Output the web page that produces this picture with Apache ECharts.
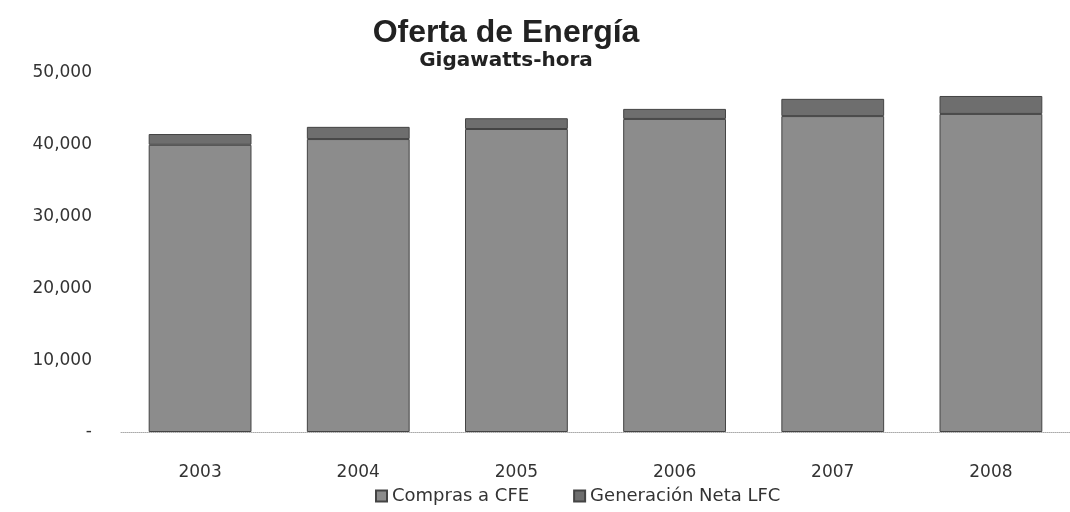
<!DOCTYPE html>
<html>
<head>
<meta charset="utf-8">
<title>Oferta de Energía</title>
<script src="https://cdn.jsdelivr.net/npm/echarts@6/dist/echarts.min.js"></script>
<style>
  html, body { margin: 0; padding: 0; background: #fff; }
  #chart { width: 1070px; height: 512px; }
</style>
</head>
<body>
<div id="chart"></div>
<script>
var years = ['2003', '2004', '2005', '2006', '2007', '2008'];
// Gigawatts-hora
var comprasCFE = [40000, 40800, 42200, 43600, 44000, 44300];
var generacionLFC = [1500, 1700, 1500, 1400, 2400, 2500];
var yTicks = [0, 10000, 20000, 30000, 40000, 50000];

var chart = echarts.init(document.getElementById('chart'));

var option = {
    animation: false,
    title: {
        text: 'Oferta de Energía',
        subtext: 'Gigawatts-hora',
        left: 501,
        textAlign: 'center',
        top: 12,
        itemGap: 2,
        textStyle: { fontFamily: 'Liberation Sans', fontSize: 32, fontWeight: 'bold', color: '#222' },
        subtextStyle: { fontFamily: 'DejaVu Sans', fontSize: 20, fontWeight: 'bold', color: '#222' }
    },
    legend: {
        data: ['Compras a CFE', 'Generación Neta LFC'],
        bottom: 2,
        left: 370,
        itemWidth: 11,
        itemHeight: 11,
        itemGap: 44,
        icon: 'rect',
        textStyle: { fontFamily: 'DejaVu Sans', fontSize: 18, color: '#333' }
    },
    grid: { left: 121, right: -12, top: 73, bottom: 80 },
    xAxis: {
        type: 'category',
        data: years,
        axisLine: { lineStyle: { color: '#aaa', type: 'dotted' } },
        axisTick: { show: false },
        axisLabel: { fontFamily: 'DejaVu Sans', fontSize: 17, color: '#333', margin: 32 }
    },
    yAxis: {
        type: 'value',
        min: yTicks[0],
        max: yTicks[yTicks.length - 1],
        interval: yTicks[1] - yTicks[0],
        splitLine: { show: false },
        axisLine: { show: false },
        axisTick: { show: false },
        axisLabel: {
            fontFamily: 'DejaVu Sans', fontSize: 17, color: '#333', margin: 29,
            formatter: function (v) {
                return v === 0 ? '-' : v.toLocaleString('en-US');
            }
        }
    },
    series: [{
        name: 'Compras a CFE',
        type: 'bar',
        stack: 'total',
        barWidth: '65%',
        data: comprasCFE,
        itemStyle: { color: '#8c8c8c', borderColor: '#444', borderWidth: 1 }
    }, {
        name: 'Generación Neta LFC',
        type: 'bar',
        stack: 'total',
        data: generacionLFC,
        itemStyle: { color: '#6e6e6e', borderColor: '#444', borderWidth: 1 }
    }]
};

chart.setOption(option);
</script>
</body>
</html>
